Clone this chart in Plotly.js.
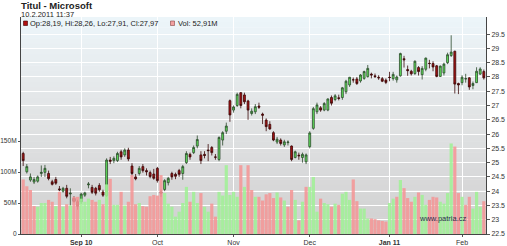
<!DOCTYPE html>
<html><head><meta charset="utf-8">
<script src="https://cdn.plot.ly/plotly-3.0.1.min.js"></script>
<style>html,body{margin:0;padding:0;background:#fff;}#chart{width:507px;height:246px;}</style>
</head><body><div id="chart"></div>
<script>
const dates = ['2010-08-10','2010-08-11','2010-08-12','2010-08-13','2010-08-16','2010-08-17','2010-08-18','2010-08-19','2010-08-20','2010-08-23','2010-08-24','2010-08-25','2010-08-26','2010-08-27','2010-08-30','2010-08-31',
'2010-09-01','2010-09-02','2010-09-03','2010-09-07','2010-09-08','2010-09-09','2010-09-10','2010-09-13','2010-09-14','2010-09-15','2010-09-16','2010-09-17','2010-09-20','2010-09-21','2010-09-22','2010-09-23','2010-09-24','2010-09-27','2010-09-28','2010-09-29','2010-09-30',
'2010-10-01','2010-10-04','2010-10-05','2010-10-06','2010-10-07','2010-10-08','2010-10-11','2010-10-12','2010-10-13','2010-10-14','2010-10-15','2010-10-18','2010-10-19','2010-10-20','2010-10-21','2010-10-22','2010-10-25','2010-10-26','2010-10-27','2010-10-28','2010-10-29',
'2010-11-01','2010-11-02','2010-11-03','2010-11-04','2010-11-05','2010-11-08','2010-11-09','2010-11-10','2010-11-11','2010-11-12','2010-11-15','2010-11-16','2010-11-17','2010-11-18','2010-11-19','2010-11-22','2010-11-23','2010-11-24','2010-11-26','2010-11-29','2010-11-30',
'2010-12-01','2010-12-02','2010-12-03','2010-12-06','2010-12-07','2010-12-08','2010-12-09','2010-12-10','2010-12-13','2010-12-14','2010-12-15','2010-12-16','2010-12-17','2010-12-20','2010-12-21','2010-12-22','2010-12-23','2010-12-27','2010-12-28','2010-12-29','2010-12-30','2010-12-31',
'2011-01-03','2011-01-04','2011-01-05','2011-01-06','2011-01-07','2011-01-10','2011-01-11','2011-01-12','2011-01-13','2011-01-14','2011-01-18','2011-01-19','2011-01-20','2011-01-21','2011-01-24','2011-01-25','2011-01-26','2011-01-27','2011-01-28','2011-01-31',
'2011-02-01','2011-02-02','2011-02-03','2011-02-04','2011-02-07','2011-02-08','2011-02-09'];

const open = [25.32,24.68,24.39,24.32,24.35,24.62,24.66,24.62,24.33,24.41,24.08,24.00,24.10,23.90,23.75,23.63,
23.63,23.86,24.22,24.13,24.10,24.20,23.97,23.84,25.09,25.07,25.07,25.38,25.27,25.44,24.88,24.50,24.62,24.86,24.72,24.65,24.60,
24.80,23.97,24.06,24.30,24.62,24.59,24.72,24.62,25.00,25.29,25.35,25.58,25.27,25.29,25.44,25.53,25.20,25.11,25.79,26.10,27.17,
26.84,27.00,27.45,27.37,27.16,26.72,26.78,26.98,26.70,26.49,26.34,26.05,25.72,25.79,25.62,25.70,25.58,25.18,25.26,25.18,25.03,
25.56,26.20,26.78,26.92,26.84,26.84,27.28,27.21,27.27,27.28,27.48,27.72,27.90,27.93,27.86,27.95,28.01,28.10,28.04,27.99,27.94,27.89,
27.99,27.94,27.90,28.04,28.64,28.26,28.20,28.12,28.33,28.08,28.27,28.48,28.47,28.39,28.02,28.14,28.50,28.75,28.90,27.77,
27.80,27.93,27.97,27.70,27.80,28.10,28.19];
const high = [25.38,24.95,24.62,24.50,24.55,24.90,24.92,24.72,24.40,24.50,24.18,24.15,24.22,24.10,23.82,23.70,
23.95,23.98,24.32,24.22,24.15,24.28,24.05,25.15,25.20,25.22,25.38,25.45,25.50,25.52,24.98,24.60,24.88,24.95,24.80,24.72,24.78,
24.85,24.06,24.42,24.50,24.68,24.65,24.78,24.92,25.40,25.35,25.60,25.95,25.40,25.40,25.65,25.58,25.30,25.92,26.10,26.40,27.21,
27.00,27.45,27.47,27.45,27.20,26.90,27.05,27.10,26.75,26.55,26.45,26.10,25.90,25.85,25.80,25.78,25.60,25.42,25.35,25.35,25.32,
26.10,26.95,27.10,26.98,27.12,27.25,27.35,27.40,27.38,27.65,27.90,28.00,27.98,28.00,28.10,28.22,28.42,28.15,28.12,28.06,28.00,27.95,
28.18,28.18,28.05,28.85,28.74,28.40,28.25,28.58,28.38,28.38,28.68,28.60,28.55,28.42,28.40,28.50,28.85,29.46,28.92,27.80,
28.06,28.11,27.99,27.84,28.34,28.34,28.26];
const low = [24.88,24.62,24.33,24.25,24.30,24.50,24.50,24.38,24.20,24.22,24.00,23.95,23.75,23.50,23.60,23.35,
23.55,23.80,24.10,23.90,23.85,23.98,23.80,23.80,24.95,24.98,25.02,25.10,25.20,25.05,24.55,24.38,24.55,24.65,24.55,24.45,24.40,
24.30,23.80,24.00,24.20,24.40,24.42,24.50,24.40,24.95,25.10,25.30,25.50,24.95,25.15,25.05,25.25,25.10,25.05,25.60,26.00,26.43,
26.75,26.95,26.90,27.05,26.50,26.65,26.70,26.88,26.35,26.10,26.15,25.75,25.65,25.60,25.55,25.60,25.05,25.15,25.10,25.00,24.95,
25.50,26.15,26.70,26.78,26.80,26.80,27.00,27.15,27.18,27.20,27.40,27.65,27.80,27.72,27.80,27.90,27.98,27.95,27.97,27.90,27.82,27.75,
27.85,27.87,27.80,28.01,28.33,28.04,28.05,28.07,28.05,27.91,28.20,28.30,28.20,27.99,28.00,28.05,28.45,28.70,27.42,27.40,
27.71,27.80,27.55,27.57,27.79,28.07,27.91];
const close = [25.07,24.86,24.50,24.41,24.50,24.66,24.80,24.44,24.24,24.28,24.05,24.10,23.82,23.93,23.64,23.47,
23.90,23.94,24.25,23.96,23.93,24.05,23.86,25.09,25.05,25.15,25.32,25.20,25.44,25.13,24.62,24.43,24.80,24.72,24.68,24.51,24.45,
24.37,23.93,24.37,24.45,24.50,24.52,24.59,24.86,25.32,25.20,25.53,25.81,25.07,25.25,25.42,25.35,25.19,25.88,26.05,26.28,26.67,
26.95,27.39,27.00,27.13,26.84,26.80,26.96,26.94,26.66,26.26,26.18,25.79,25.82,25.67,25.73,25.72,25.11,25.38,25.24,25.29,25.27,
26.04,26.89,27.02,26.84,27.07,27.23,27.08,27.34,27.25,27.62,27.85,27.99,27.90,27.77,28.07,28.19,28.30,28.07,28.01,27.97,27.85,27.81,
27.98,28.09,28.00,28.82,28.60,28.22,28.11,28.55,28.19,28.30,28.66,28.47,28.35,28.02,28.38,28.45,28.78,28.87,27.75,27.72,
27.99,27.94,27.65,27.77,28.20,28.28,27.97];
const volumeM = [88,77,71,45,44,50,50,55,52,45,68,44,48,46,60,60,
57,52,57,55,52,55,48,80,89,47,47,68,46,52,95,48,50,45,44,61,63,
62,95,66,49,44,28,36,50,76,52,68,50,66,44,36,49,28,68,62,111,63,
68,60,111,76,111,71,60,60,54,64,66,58,67,59,54,44,71,55,22,52,76,
76,92,36,57,50,48,44,49,47,65,68,55,88,53,41,41,25,25,24,22,21,20,
50,57,60,87,74,58,52,60,67,63,47,55,60,59,52,49,66,146,141,66,
60,47,60,41,68,44,52.91];

const tickDates = ['2010-09-01','2010-10-01','2010-11-01','2010-12-01','2011-01-03','2011-02-01'];
const tickText = ['<b>Sep 10</b>','Oct','Nov','Dec','<b>Jan 11</b>','Feb'];
const priceTicks = [22.5,23,23.5,24,24.5,25,25.5,26,26.5,27,27.5,28,28.5,29,29.5];
const volTicks = [0,50e6,100e6,150e6];
const volTickText = ['0','50M','100M','150M'];
const legendText = 'Op:28,19, Hi:28,26, Lo:27,91, Cl:27,97';
const volText = 'Vol: 52,91M';

const volColors = close.map((c,i)=> (i>0 && c>=close[i-1]) ? 'rgba(160,240,150,0.88)' : 'rgba(244,150,150,0.88)');

const PL=21, PR=486, PT=17, PB=234;
const px = x => (x-PL)/(PR-PL);
const py = y => (PB-y)/(PB-PT);

const shapes=[];
const nb=40;
const cTop=[236,245,249], cMid=[226,228,229], cBot=[208,208,208];
for(let k=0;k<nb;k++){
  const f=k/(nb-1);
  let c;
  if(f<0.45){const g=f/0.45;c=cTop.map((v,j)=>Math.round(v+(cMid[j]-v)*g));}
  else {const g=(f-0.45)/0.55;c=cMid.map((v,j)=>Math.round(v+(cBot[j]-v)*g));}
  shapes.push({type:'rect',xref:'paper',yref:'paper',x0:0,x1:1,y0:1-(k+1)/nb,y1:Math.min(1,1-k/nb+0.002),
    fillcolor:`rgb(${c[0]},${c[1]},${c[2]})`,line:{width:0},layer:'below'});
}
shapes.push({type:'rect',xref:'paper',yref:'paper',x0:px(23.5),x1:px(27.5),y0:py(25.5),y1:py(21),fillcolor:'#b01010',line:{color:'#400',width:0.6},layer:'above'});
shapes.push({type:'rect',xref:'paper',yref:'paper',x0:px(170.5),x1:px(174.5),y0:py(25.5),y1:py(21),fillcolor:'#f2a0a0',line:{color:'#844',width:0.6},layer:'above'});

const fnt='Liberation Sans, Arial, sans-serif';
const annotations=[
 {text:'<b>Titul - Microsoft</b>',xref:'paper',yref:'paper',x:px(19),y:py(5.5),xanchor:'left',yanchor:'middle',showarrow:false,font:{family:fnt,size:9.5,color:'#222'}},
 {text:'10.2.2011 11:37',xref:'paper',yref:'paper',x:px(19),y:py(14.5),xanchor:'left',yanchor:'middle',showarrow:false,font:{family:fnt,size:7.5,color:'#222'}},
 {text:legendText,xref:'paper',yref:'paper',x:px(28),y:py(23.5),xanchor:'left',yanchor:'middle',showarrow:false,font:{family:fnt,size:7.5,color:'#222'}},
 {text:volText,xref:'paper',yref:'paper',x:px(176),y:py(23.5),xanchor:'left',yanchor:'middle',showarrow:false,font:{family:fnt,size:7.5,color:'#222'}},
 {text:'www.patria.cz',xref:'paper',yref:'paper',x:px(417),y:py(218),xanchor:'left',yanchor:'middle',showarrow:false,font:{family:fnt,size:7.5,color:'#2a2a4a'}}
];

const traces=[
 {type:'bar',x:dates,y:volumeM.map(v=>v*1e6),yaxis:'y2',marker:{color:volColors,line:{width:0}},hoverinfo:'skip'},
 {type:'candlestick',x:dates,open:open,high:high,low:low,close:close,yaxis:'y',whiskerwidth:0,
  increasing:{line:{color:'#2c4a2c',width:0.8},fillcolor:'#5fe05a'},
  decreasing:{line:{color:'#3a0808',width:0.8},fillcolor:'#a81212'},hoverinfo:'skip'}
];

const layout={
 width:507,height:246,margin:{l:PL,r:507-PR,t:PT,b:246-PB},
 paper_bgcolor:'#ffffff',plot_bgcolor:'rgba(0,0,0,0)',showlegend:false,
 bargap:0.12,boxgap:0.25,
 font:{family:fnt,size:7,color:'#333'},
 xaxis:{type:'category',range:[-0.6,dates.length-0.4],tickmode:'array',
   tickvals:tickDates,ticktext:tickText,
   showgrid:true,gridcolor:'#ffffff',gridwidth:1,ticks:'outside',ticklen:2,tickcolor:'#555',
   showline:true,linecolor:'#444',linewidth:1,rangeslider:{visible:false},tickfont:{size:7,color:'#333'}},
 yaxis:{side:'right',range:[22.5,30.1],tickmode:'array',tickvals:priceTicks,showgrid:true,gridcolor:'#ffffff',gridwidth:1,
   ticks:'outside',ticklen:3,tickcolor:'#555',showline:true,linecolor:'#444',linewidth:1,zeroline:false,
   tickfont:{size:7,color:'#333'}},
 yaxis2:{overlaying:'y',side:'left',range:[0,350e6],tickmode:'array',tickvals:volTicks,
   ticktext:volTickText,showgrid:false,zeroline:false,ticks:'outside',ticklen:2,tickcolor:'#555',
   showline:true,linecolor:'#444',linewidth:1,tickfont:{size:6.6,color:'#333'}},
 shapes:shapes,annotations:annotations
};
Plotly.newPlot('chart',traces,layout,{staticPlot:true,displayModeBar:false});
</script></body></html>
